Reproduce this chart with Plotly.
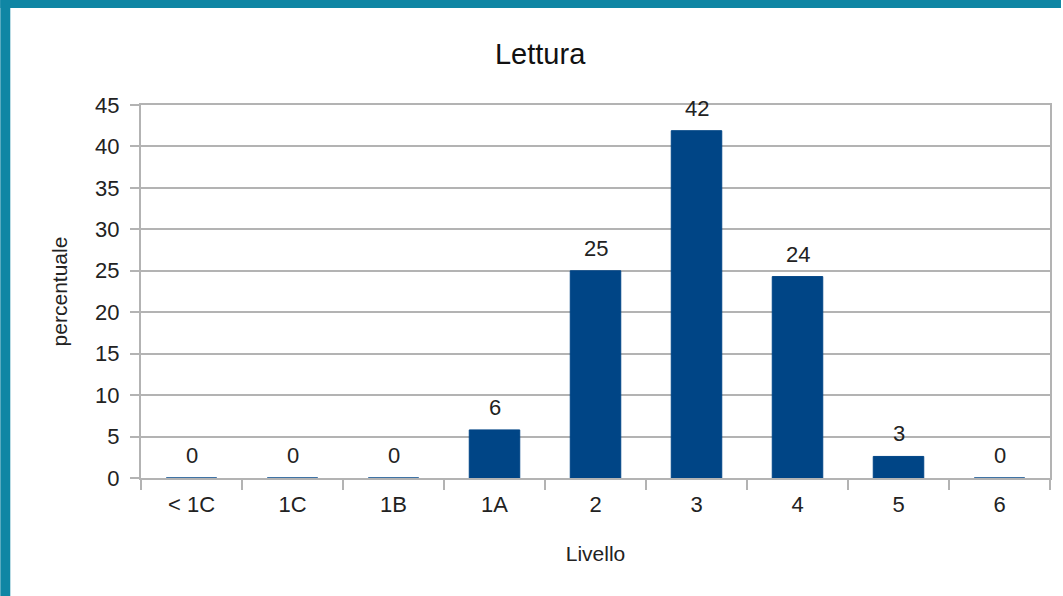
import plotly.graph_objects as go

# dati
livelli = ["< 1C", "1C", "1B", "1A", "2", "3", "4", "5", "6"]
percentuali = [0, 0, 0, 5.8, 25.0, 41.9, 24.3, 2.6, 0]
y_ticks = [0, 5, 10, 15, 20, 25, 30, 35, 40, 45]

W, H = 1063, 596
ML, MR, MT, MB = 141, 11, 105, 118
pw, ph = W - ML - MR, H - MT - MB

FONT = "Liberation Sans, Arial, sans-serif"
GRIGIO = "#b3b3b3"

fig = go.Figure()
fig.add_trace(go.Bar(
    x=livelli,
    y=percentuali,
    marker=dict(color="#004586", line=dict(color="#004586", width=1)),
    hoverinfo="x+y",
))

# etichette dei valori sopra le barre (x come indice di categoria)
for i, val in enumerate(percentuali):
    fig.add_annotation(x=i, y=val, text=f"{val:.0f}", showarrow=False,
                       yanchor="bottom", yshift=8,
                       font=dict(size=22, color="#222222"))

# bordo decorativo (in alto e a sinistra)
teal = "#0f86a4"
fig.add_shape(type="rect", xref="paper", yref="paper",
              x0=-ML / pw, x1=-(ML - 10) / pw, y0=-MB / ph, y1=1 + MT / ph,
              fillcolor=teal, line_width=0, layer="above")
fig.add_shape(type="rect", xref="paper", yref="paper",
              x0=-ML / pw, x1=1 + MR / pw, y0=1 + (MT - 8) / ph, y1=1 + MT / ph,
              fillcolor=teal, line_width=0, layer="above")

fig.update_layout(
    width=W, height=H,
    margin=dict(l=ML, r=MR, t=MT, b=MB),
    paper_bgcolor="white",
    plot_bgcolor="white",
    font=dict(family=FONT, size=22, color="#222222"),
    title=dict(text="Lettura", x=(541 - ML) / pw, xref="paper", xanchor="center",
               y=1 - 54 / H, yanchor="middle",
               font=dict(size=29, color="#111111")),
    bargap=0.5,
    showlegend=False,
)
fig.update_xaxes(
    title=dict(text="Livello", font=dict(size=21), standoff=30),
    type="category",
    tickson="boundaries",
    ticks="outside", ticklen=10, tickcolor=GRIGIO, tickwidth=2,
    ticklabelstandoff=6,
    showline=True, linecolor=GRIGIO, linewidth=2, mirror=True,
    showgrid=False,
    tickfont=dict(size=22),
)
fig.update_yaxes(
    title=dict(text="percentuale", font=dict(size=21), standoff=22),
    range=[0, 45],
    tickvals=y_ticks,
    ticks="outside", ticklen=9, tickcolor=GRIGIO, tickwidth=2,
    ticklabelstandoff=6,
    showline=True, linecolor=GRIGIO, linewidth=2, mirror=True,
    showgrid=True, gridcolor=GRIGIO, gridwidth=1.5,
    zeroline=False,
    tickfont=dict(size=22),
)

fig.write_html("out.html", config={"displayModeBar": False},
               post_script="document.body.style.margin='0';")
